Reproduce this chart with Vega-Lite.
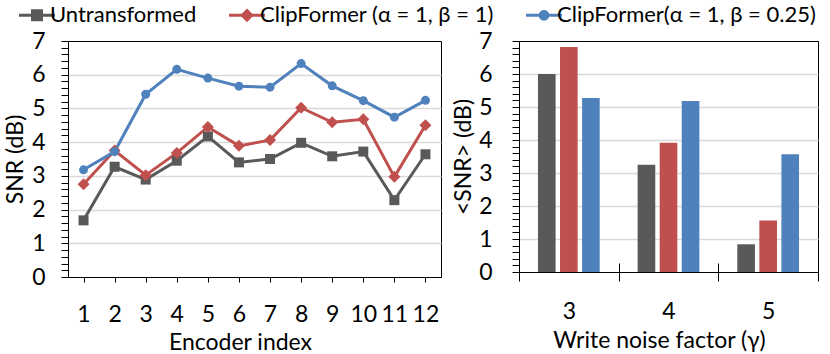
{
  "$schema": "https://vega.github.io/schema/vega-lite/v6.json",
  "background": "white",
  "padding": {"left": 4, "top": 4, "right": 2, "bottom": 0},
  "datasets": {
    "lines": [
      {"series": "Untransformed", "encoder": 1, "snr": 1.68},
      {"series": "Untransformed", "encoder": 2, "snr": 3.27},
      {"series": "Untransformed", "encoder": 3, "snr": 2.89},
      {"series": "Untransformed", "encoder": 4, "snr": 3.45},
      {"series": "Untransformed", "encoder": 5, "snr": 4.17},
      {"series": "Untransformed", "encoder": 6, "snr": 3.4},
      {"series": "Untransformed", "encoder": 7, "snr": 3.5},
      {"series": "Untransformed", "encoder": 8, "snr": 3.98},
      {"series": "Untransformed", "encoder": 9, "snr": 3.58},
      {"series": "Untransformed", "encoder": 10, "snr": 3.72},
      {"series": "Untransformed", "encoder": 11, "snr": 2.28},
      {"series": "Untransformed", "encoder": 12, "snr": 3.64},
      {"series": "ClipFormer (α = 1, β = 1)", "encoder": 1, "snr": 2.75},
      {"series": "ClipFormer (α = 1, β = 1)", "encoder": 2, "snr": 3.75},
      {"series": "ClipFormer (α = 1, β = 1)", "encoder": 3, "snr": 3.02},
      {"series": "ClipFormer (α = 1, β = 1)", "encoder": 4, "snr": 3.68},
      {"series": "ClipFormer (α = 1, β = 1)", "encoder": 5, "snr": 4.45},
      {"series": "ClipFormer (α = 1, β = 1)", "encoder": 6, "snr": 3.89},
      {"series": "ClipFormer (α = 1, β = 1)", "encoder": 7, "snr": 4.06},
      {"series": "ClipFormer (α = 1, β = 1)", "encoder": 8, "snr": 5.02},
      {"series": "ClipFormer (α = 1, β = 1)", "encoder": 9, "snr": 4.59},
      {"series": "ClipFormer (α = 1, β = 1)", "encoder": 10, "snr": 4.68},
      {"series": "ClipFormer (α = 1, β = 1)", "encoder": 11, "snr": 2.97},
      {"series": "ClipFormer (α = 1, β = 1)", "encoder": 12, "snr": 4.5},
      {"series": "ClipFormer(α = 1, β = 0.25)", "encoder": 1, "snr": 3.18},
      {"series": "ClipFormer(α = 1, β = 0.25)", "encoder": 2, "snr": 3.72},
      {"series": "ClipFormer(α = 1, β = 0.25)", "encoder": 3, "snr": 5.42},
      {"series": "ClipFormer(α = 1, β = 0.25)", "encoder": 4, "snr": 6.16},
      {"series": "ClipFormer(α = 1, β = 0.25)", "encoder": 5, "snr": 5.9},
      {"series": "ClipFormer(α = 1, β = 0.25)", "encoder": 6, "snr": 5.66},
      {"series": "ClipFormer(α = 1, β = 0.25)", "encoder": 7, "snr": 5.63},
      {"series": "ClipFormer(α = 1, β = 0.25)", "encoder": 8, "snr": 6.33},
      {"series": "ClipFormer(α = 1, β = 0.25)", "encoder": 9, "snr": 5.67},
      {"series": "ClipFormer(α = 1, β = 0.25)", "encoder": 10, "snr": 5.23},
      {"series": "ClipFormer(α = 1, β = 0.25)", "encoder": 11, "snr": 4.74},
      {"series": "ClipFormer(α = 1, β = 0.25)", "encoder": 12, "snr": 5.24}
    ],
    "bars": [
      {"series": "Untransformed", "gamma": 3, "snr": 6.0},
      {"series": "ClipFormer (α = 1, β = 1)", "gamma": 3, "snr": 6.82},
      {"series": "ClipFormer(α = 1, β = 0.25)", "gamma": 3, "snr": 5.27},
      {"series": "Untransformed", "gamma": 4, "snr": 3.25},
      {"series": "ClipFormer (α = 1, β = 1)", "gamma": 4, "snr": 3.92},
      {"series": "ClipFormer(α = 1, β = 0.25)", "gamma": 4, "snr": 5.18},
      {"series": "Untransformed", "gamma": 5, "snr": 0.84},
      {"series": "ClipFormer (α = 1, β = 1)", "gamma": 5, "snr": 1.56},
      {"series": "ClipFormer(α = 1, β = 0.25)", "gamma": 5, "snr": 3.57}
    ]
  },
  "hconcat": [
    {
      "width": 373,
      "height": 236,
      "data": {"name": "lines"},
      "encoding": {
        "x": {
          "field": "encoder",
          "type": "ordinal",
          "axis": {
            "labelAngle": 0,
            "tickSize": 5,
            "labelPadding": 21,
            "title": "Encoder index",
            "titlePadding": 5,
            "titleX": 172,
            "grid": false
          }
        },
        "y": {
          "field": "snr",
          "type": "quantitative",
          "scale": {"domain": [0, 7], "nice": false},
          "axis": {
            "values": [0, 0.2, 0.4, 0.6, 0.8, 1, 1.2, 1.4, 1.6, 1.8, 2, 2.2, 2.4, 2.6, 2.8, 3, 3.2, 3.4, 3.6, 3.8, 4, 4.2, 4.4, 4.6, 4.8, 5, 5.2, 5.4, 5.6, 5.8, 6, 6.2, 6.4, 6.6, 6.8, 7],
            "labelExpr": "abs(datum.value - round(datum.value)) < 0.01 ? toString(round(datum.value)) : ''",
            "labelOverlap": false,
            "grid": true,
            "gridOpacity": {"condition": {"test": "abs(datum.value - round(datum.value)) < 0.01 && datum.value > 0.5 && datum.value < 6.5", "value": 1}, "value": 0},
            "tickSize": 7,
            "labelPadding": 16,
            "title": "SNR (dB)",
            "titlePadding": 4
          }
        },
        "color": {
          "field": "series",
          "type": "nominal",
          "scale": {
            "domain": ["Untransformed", "ClipFormer (α = 1, β = 1)", "ClipFormer(α = 1, β = 0.25)"],
            "range": ["#595959", "#C0504D", "#4F81BD"]
          }
        }
      },
      "layer": [
        {
          "mark": {"type": "point", "filled": true, "opacity": 1, "size": 0},
          "encoding": {
            "color": {
              "field": "series",
              "type": "nominal",
              "legend": {
                "orient": "none",
                "direction": "horizontal",
                "legendX": -42,
                "legendY": -36.7,
                "title": null,
                "labelFont": "Lato",
                "labelFontSize": 22,
                "labelColor": "black",
                "labelLimit": 500,
                "symbolSize": 144,
                "symbolStrokeWidth": 0,
                "labelOffset": 2,
                "columnPadding": 32
              }
            },
            "shape": {
              "field": "series",
              "type": "nominal",
              "scale": {
                "domain": ["Untransformed", "ClipFormer (α = 1, β = 1)", "ClipFormer(α = 1, β = 0.25)"],
                "range": [
                  "M-3,-0.25H3V0.25H-3Z M-1,-1H1V1H-1Z",
                  "M-3,-0.25H3V0.25H-3Z M0,-1.15L1.15,0L0,1.15L-1.15,0Z",
                  "M-3,-0.25H3V0.25H-3Z M0.9,0C0.9,0.497 0.497,0.9 0,0.9C-0.497,0.9 -0.9,0.497 -0.9,0C-0.9,-0.497 -0.497,-0.9 0,-0.9C0.497,-0.9 0.9,-0.497 0.9,0Z"
                ]
              }
            }
          }
        },
        {
          "mark": {"type": "line", "strokeWidth": 3}
        },
        {
          "transform": [{"filter": "datum.series === 'Untransformed'"}],
          "mark": {"type": "point", "filled": true, "opacity": 1, "shape": "square", "size": 100}
        },
        {
          "transform": [{"filter": "datum.series === 'ClipFormer (α = 1, β = 1)'"}],
          "mark": {"type": "point", "filled": true, "opacity": 1, "shape": "diamond", "size": 144}
        },
        {
          "transform": [{"filter": "datum.series === 'ClipFormer(α = 1, β = 0.25)'"}],
          "mark": {"type": "point", "filled": true, "opacity": 1, "shape": "circle", "size": 80}
        }
      ]
    },
    {
      "width": 299,
      "height": 231,
      "data": {"name": "bars"},
      "mark": {"type": "bar"},
      "encoding": {
        "x": {
          "field": "gamma",
          "type": "ordinal",
          "scale": {"paddingInner": 0, "paddingOuter": 0},
          "axis": {
            "labelAngle": 0,
            "tickBand": "extent",
            "offset": -9,
            "tickSize": 18,
            "domain": false,
            "labelPadding": 19,
            "title": "Write noise factor (γ)",
            "titlePadding": 6,
            "titleX": 140,
            "grid": false
          }
        },
        "xOffset": {
          "field": "series",
          "type": "nominal",
          "scale": {
            "domain": ["Untransformed", "ClipFormer (α = 1, β = 1)", "ClipFormer(α = 1, β = 0.25)"],
            "paddingInner": 0.2,
            "paddingOuter": 0.86
          }
        },
        "y": {
          "field": "snr",
          "type": "quantitative",
          "scale": {"domain": [0, 7], "nice": false},
          "axis": {
            "values": [0, 0.2, 0.4, 0.6, 0.8, 1, 1.2, 1.4, 1.6, 1.8, 2, 2.2, 2.4, 2.6, 2.8, 3, 3.2, 3.4, 3.6, 3.8, 4, 4.2, 4.4, 4.6, 4.8, 5, 5.2, 5.4, 5.6, 5.8, 6, 6.2, 6.4, 6.6, 6.8, 7],
            "labelExpr": "abs(datum.value - round(datum.value)) < 0.01 ? toString(round(datum.value)) : ''",
            "labelOverlap": false,
            "grid": true,
            "gridOpacity": {"condition": {"test": "abs(datum.value - round(datum.value)) < 0.01 && datum.value > 0.5 && datum.value < 6.5", "value": 1}, "value": 0},
            "tickSize": 7,
            "labelPadding": 20,
            "title": "<SNR> (dB)",
            "titlePadding": 3
          }
        },
        "color": {
          "field": "series",
          "type": "nominal"
        }
      }
    }
  ],
  "spacing": 10,
  "resolve": {"scale": {"color": "shared"}, "legend": {"color": "shared"}},
  "config": {
    "font": "Lato",
    "view": {"stroke": "black", "strokeWidth": 1},
    "axis": {
      "labelFont": "Lato",
      "labelFontSize": 23,
      "labelColor": "black",
      "titleFont": "Lato",
      "titleFontSize": 23,
      "titleFontWeight": "normal",
      "titleColor": "black",
      "domainColor": "black",
      "domainWidth": 1,
      "tickColor": "black",
      "tickWidth": 1,
      "gridColor": "#d9d9d9",
      "gridWidth": 1.5
    }
  }
}
